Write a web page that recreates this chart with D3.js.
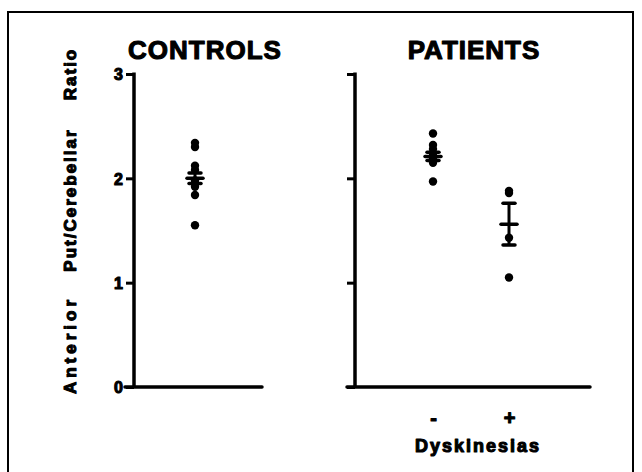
<!DOCTYPE html>
<html><head><meta charset="utf-8">
<script src="https://cdn.jsdelivr.net/npm/d3@7/dist/d3.min.js"></script>
<style>
html,body{margin:0;padding:0;background:#fff;}
text{font-family:"Liberation Sans",Arial,Helvetica,sans-serif;font-weight:bold;fill:#000;stroke:#000;stroke-width:1.1px;stroke-linejoin:round;}
</style></head>
<body>
<svg id="chart" width="642" height="472"></svg>
<script>
// ---- data ----
const yTicks = [0, 1, 2, 3];
const yTickLabels = ["0", "1", "2", "3"];
const panelTitles = ["CONTROLS", "PATIENTS"];
const yAxisWords = ["Anterior", "Put/Cerebellar", "Ratio"];
const patientGroups = ["-", "+"];
const xAxisTitle = "Dyskinesias";

const controlValues = [2.34, 2.30, 2.12, 2.08, 1.98, 1.955, 1.92, 1.84, 1.55];
const controlMean = 2.00;
const controlSem = 0.05;

const noDyskValues = [2.43, 2.32, 2.28, 2.22, 2.19, 2.15, 1.97];
const noDyskMean = 2.21;
const noDyskSem = 0.04;

const dyskValues = [1.88, 1.86, 1.43, 1.05];
const dyskMean = 1.56;
const dyskSem = 0.20;

// ---- drawing ----
const svg = d3.select("#chart");

// frame
svg.append("rect").attr("x", 8).attr("y", 12).attr("width", 625).attr("height", 480)
  .attr("fill", "none").attr("stroke", "#000").attr("stroke-width", 2);

const y = d3.scaleLinear().domain([0, 3]).range([387, 74]);

const xCtrl = d3.scalePoint().domain(["Controls"]).range([134, 256]).padding(0.5);
const xPat = d3.scalePoint().domain(patientGroups).range([433, 509]);

function drawAxes(g, axisX, x0, x1, withLabels) {
  const ax = d3.axisLeft(y).tickValues(yTicks)
    .tickFormat((d, i) => withLabels ? yTickLabels[i] : "")
    .tickSize(8).tickPadding(3);
  const a = g.append("g").attr("transform", `translate(${axisX},0)`).call(ax);
  a.select(".domain").remove();
  a.selectAll(".tick line").attr("stroke", "#000").attr("stroke-width", 3);
  a.selectAll(".tick text").attr("font-size", 16).attr("dy", "0.36em")
    .attr("font-family", null).style("font-weight", "bold");
  g.append("line").attr("x1", axisX).attr("x2", axisX)
    .attr("y1", y(3) - 1.5).attr("y2", y(0))
    .attr("stroke", "#000").attr("stroke-width", 3.5);
  g.append("line").attr("x1", x0).attr("x2", x1)
    .attr("y1", y(0)).attr("y2", y(0))
    .attr("stroke", "#000").attr("stroke-width", 3.5).attr("stroke-linecap", "round");
}

function drawGroup(g, cx, values, mean, sem) {
  g.selectAll(null).data(values).enter().append("circle")
    .attr("cx", cx).attr("cy", d => y(d)).attr("r", 4.2).attr("fill", "#000");
  g.append("line").attr("x1", cx).attr("x2", cx)
    .attr("y1", y(mean + sem)).attr("y2", y(mean - sem))
    .attr("stroke", "#000").attr("stroke-width", 3);
  [mean + sem, mean - sem].forEach(v => {
    g.append("line").attr("x1", cx - 6).attr("x2", cx + 6)
      .attr("y1", y(v)).attr("y2", y(v))
      .attr("stroke", "#000").attr("stroke-width", 3.5).attr("stroke-linecap", "round");
  });
  g.append("line").attr("x1", cx - 8).attr("x2", cx + 8)
    .attr("y1", y(mean)).attr("y2", y(mean))
    .attr("stroke", "#000").attr("stroke-width", 3.5).attr("stroke-linecap", "round");
}

// left panel
const gL = svg.append("g");
drawAxes(gL, 134, 125, 262, true);
drawGroup(gL, xCtrl("Controls"), controlValues, controlMean, controlSem);

// right panel
const gR = svg.append("g");
drawAxes(gR, 355, 347, 590, false);
drawGroup(gR, xPat("-"), noDyskValues, noDyskMean, noDyskSem);
drawGroup(gR, xPat("+"), dyskValues, dyskMean, dyskSem);

// titles
svg.append("text").attr("x", 205).attr("y", 59).attr("text-anchor", "middle")
  .attr("font-size", 26).attr("letter-spacing", 1).text(panelTitles[0]);
svg.append("text").attr("x", 474).attr("y", 59).attr("text-anchor", "middle")
  .attr("font-size", 26).attr("letter-spacing", 1).text(panelTitles[1]);

// x group labels
const xl = d3.axisBottom(xPat).tickSize(0).tickPadding(0);
const xg = gR.append("g").attr("transform", "translate(0,418)").call(xl);
xg.select(".domain").remove();
xg.selectAll(".tick text").attr("font-size", 20).attr("dy", "0.36em").attr("y", 0)
  .attr("font-family", null);

svg.append("text").attr("x", 478).attr("y", 452).attr("text-anchor", "middle")
  .attr("font-size", 18).attr("letter-spacing", 2).text(xAxisTitle);

// y axis title (rotated words)
const yWordPos = [345, 200, 74];
const yWordSpacing = [4, 2, 2];
yAxisWords.forEach((w, i) => {
  svg.append("text").attr("transform", `translate(76,${yWordPos[i]}) rotate(-90)`)
    .attr("text-anchor", "middle").attr("font-size", 17)
    .attr("letter-spacing", yWordSpacing[i]).text(w);
});
</script>
</body></html>
